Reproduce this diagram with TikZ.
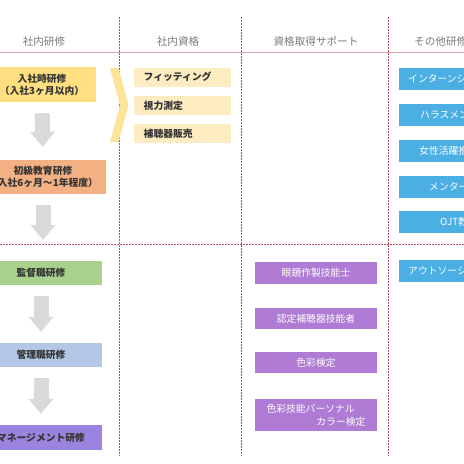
\documentclass[tikz,border=0pt]{standalone}
\usepackage{fontspec}
\setmainfont{Noto Sans CJK JP}
\usetikzlibrary{arrows.meta}
\definecolor{cYel}{HTML}{FFDF80}
\definecolor{cChev}{HTML}{FCE49A}
\definecolor{cLYel}{HTML}{FDEBC2}
\definecolor{cOra}{HTML}{F3B183}
\definecolor{cGrn}{HTML}{A9D18E}
\definecolor{cLBlu}{HTML}{B4C7E7}
\definecolor{cMgmt}{HTML}{9A84DF}
\definecolor{cPur}{HTML}{AF7BD4}
\definecolor{cBlu}{HTML}{4BAFE4}
\definecolor{cPink}{HTML}{E3A3AB}
\definecolor{cDash}{HTML}{B5505C}
\definecolor{cArr}{HTML}{D9D9D9}
\definecolor{cTxt}{HTML}{333333}
\definecolor{cHead}{HTML}{7A7A7A}
\tikzset{
  lbox/.style={fill=#1, draw=none, inner sep=0pt, align=center, text=cTxt,
    font=\fontsize{9.8}{12}\selectfont\bfseries},
  ybox/.style={fill=cLYel, draw=none, minimum width=97pt, minimum height=19pt},
  ytext/.style={anchor=west, inner sep=0pt, text=cTxt, font=\fontsize{9.8}{12}\selectfont\bfseries},
  pbox/.style={fill=cPur, draw=none, minimum width=122pt, inner sep=0pt, text=white,
    align=center, font=\fontsize{9.8}{13}\selectfont},
  bbox/.style={fill=cBlu, draw=none, minimum width=101pt, minimum height=22pt},
  btext/.style={anchor=west, inner sep=0pt, text=white, font=\fontsize{9.8}{12}\selectfont},
  head/.style={text=cHead, inner sep=0pt, font=\fontsize{10.6}{12}\selectfont},
  sep/.style={draw=cDash, line width=0.6pt, dash pattern=on 1.6pt off 1.4pt},
  downarrow/.style={draw=cArr, line width=15pt,
    -{Triangle[width=24pt,length=15pt]}, shorten <=11pt},
}
\begin{document}
\begin{tikzpicture}[x=1pt,y=-1pt]
\useasboundingbox (0,0) rectangle (464,464);
\clip (0,0) rectangle (464,464);
\fill[white] (0,0) rectangle (464,464);
% headers
\node[head] (h1) at (44,41) {社内研修};
\node[head] (h2) at (178,41) {社内資格};
\node[head] (h3) at (316,41) {資格取得サポート};
\node[head, anchor=west] (h4) at (414,41) {その他研修};
% lines
\draw[cPink, line width=1pt] (0,52) -- (464,52);
\draw[sep] (0,244.5) -- (464,244.5);
\draw[sep] (119.5,17) -- (119.5,456);
\draw[sep] (241.5,17) -- (241.5,456);
\draw[sep] (388,17) -- (388,456);
% left column
\node[lbox=cYel, minimum width=108pt, minimum height=35pt] (n1) at (42,84.5) {入社時研修\\（入社3ヶ月以内）};
\node[lbox=cOra, minimum width=126pt, minimum height=34pt] (n2) at (43,177) {初級教育研修\\（入社6ヶ月〜1年程度）};
\node[lbox=cGrn, minimum width=122pt, minimum height=24pt] (n3) at (41,273) {監督職研修};
\node[lbox=cLBlu, minimum width=122pt, minimum height=24pt] (n4) at (41,355) {管理職研修};
\node[lbox=cMgmt, minimum width=122pt, minimum height=25pt] (n5) at (41,437.5) {マネージメント研修};
\coordinate (a2end) at (43,240);
\draw[downarrow, shorten >=13pt] (n1.south) -- (n2.north);
\draw[downarrow, shorten >=0pt] (n2.south) -- (a2end);
\draw[downarrow, shorten >=11pt] (n3.south) -- (n4.north);
\draw[downarrow, shorten >=11pt] (n4.south) -- (n5.north);
% chevron
\fill[cChev] (110,68) -- (118.5,68) -- (128.5,105) -- (118.5,142) -- (110,142) -- (120,105) -- cycle;
% middle column
\node[ybox] (q1) at (182.5,77) {};
\node[ybox] (q2) at (182.5,105.5) {};
\node[ybox] (q3) at (182.5,133.5) {};
\node[ytext] (t1) at (143.5,77) {フィッティング};
\node[ytext] (t2) at (143.5,105.5) {視力測定};
\node[ytext] (t3) at (143.5,133.5) {補聴器販売};
% right-middle column (purple)
\node[pbox, minimum height=22pt] (p1) at (316,273) {眼鏡作製技能士};
\node[pbox, minimum height=21pt] (p2) at (316,318.5) {認定補聴器技能者};
\node[pbox, minimum height=21pt] (p3) at (316,362.5) {色彩検定};
\node[pbox, minimum height=32pt, align=left] (p4) at (316,415) {色彩技能パーソナル\\\hspace*{5.1em}カラー検定};
% right column (blue)
\node[bbox] (b1) at (449.5,79) {};
\node[bbox] (b2) at (449.5,115) {};
\node[bbox] (b3) at (449.5,151) {};
\node[bbox] (b4) at (449.5,186.5) {};
\node[bbox] (b5) at (449.5,222) {};
\node[bbox] (b6) at (449.5,271) {};
\node[btext] (s1) at (408,79) {インターンシップ研修};
\node[btext] (s2) at (420,115) {ハラスメント研修};
\node[btext] (s3) at (419,151) {女性活躍推進研修};
\node[btext] (s4) at (429,186.5) {メンター研修};
\node[btext] (s5) at (440,222) {OJT教育};
\node[btext] (s6) at (408,271) {アウトソーシング};
\end{tikzpicture}
\end{document}
